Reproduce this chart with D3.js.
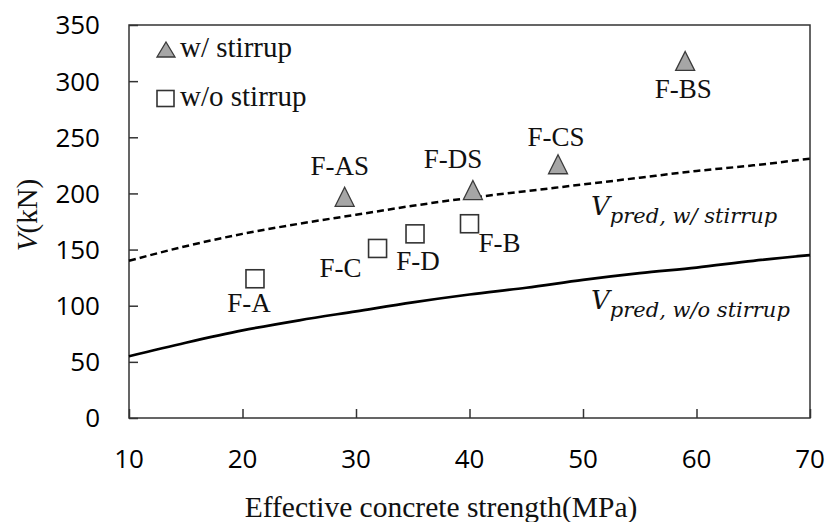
<!DOCTYPE html>
<html>
<head>
<meta charset="utf-8">
<script src="https://cdn.jsdelivr.net/npm/d3@7"></script>
<style>
  html, body { margin: 0; padding: 0; background: #fff; }
  svg { display: block; }
</style>
</head>
<body>
<svg id="chart" width="830" height="522"></svg>
<script>
// Specimens with stirrups (triangles)
const stirrupNames = ["F-AS", "F-DS", "F-CS", "F-BS"];
const stirrupFc = [29.0, 40.3, 47.8, 59.0];
const stirrupV = [197, 203, 226, 318];

// Specimens without stirrups (squares)
const plainNames = ["F-A", "F-C", "F-D", "F-B"];
const plainFc = [21.1, 31.9, 35.2, 40.0];
const plainV = [124, 151, 164, 173];

// Predicted shear strength curves
const predFc = [10, 15, 20, 25, 30, 35, 40, 45, 50, 55, 60, 65, 70];
const predWithStirrup = [140, 153, 164, 173, 181, 189, 196, 202, 208, 214, 220, 225, 231];
const predWithoutStirrup = [55, 67, 78, 87, 95, 103, 110, 116, 123, 129, 134, 140, 145];

// Axis ticks
const xTicks = [10, 20, 30, 40, 50, 60, 70];
const yTicks = [0, 50, 100, 150, 200, 250, 300, 350];

// Label placement around each marker: anchor, dx from marker centre, dy of baseline from marker centre
const labelPlacement = {
  "F-AS": { anchor: "middle", dx: -5, dy: -22 },
  "F-DS": { anchor: "middle", dx: -20, dy: -22 },
  "F-CS": { anchor: "middle", dx: -2, dy: -18 },
  "F-BS": { anchor: "middle", dx: -2, dy: 37 },
  "F-A":  { anchor: "middle", dx: -6, dy: 33 },
  "F-C":  { anchor: "end",    dx: -16, dy: 29 },
  "F-D":  { anchor: "middle", dx: 3, dy: 36 },
  "F-B":  { anchor: "start",  dx: 9, dy: 28 }
};

const svg = d3.select("#chart");
const plot = { left: 129, right: 810, top: 25, bottom: 418 };

const x = d3.scaleLinear().domain([10, 70]).range([plot.left, plot.right]);
const y = d3.scaleLinear().domain([0, 350]).range([plot.bottom, plot.top]);

const frameColor = "#333";
const serif = "Liberation Serif, Times New Roman, serif";
const sans = "Open Sans, Noto Sans, sans-serif";

// Y axis: ticks pointing into the plot, labels on the left
const yAxis = d3.axisRight(y).tickValues(yTicks).tickSize(9).tickFormat("");
const gy = svg.append("g").attr("transform", `translate(${plot.left},0)`).call(yAxis);
gy.select(".domain").remove();
gy.selectAll(".tick line").attr("stroke", frameColor).attr("stroke-width", 1.5);

svg.append("g").selectAll("text").data(yTicks).join("text")
  .attr("x", 100).attr("y", d => y(d)).attr("dy", "0.36em")
  .attr("text-anchor", "end")
  .attr("font-family", sans).attr("font-size", 26).attr("fill", "#000")
  .text(d => d);

// X axis: ticks pointing up into the plot, labels below
const xAxis = d3.axisTop(x).tickValues(xTicks).tickSize(9).tickFormat("");
const gx = svg.append("g").attr("transform", `translate(0,${plot.bottom})`).call(xAxis);
gx.select(".domain").remove();
gx.selectAll(".tick line").attr("stroke", frameColor).attr("stroke-width", 1.5);

svg.append("g").selectAll("text").data(xTicks).join("text")
  .attr("x", d => x(d)).attr("y", 468)
  .attr("text-anchor", "middle")
  .attr("font-family", sans).attr("font-size", 26).attr("fill", "#000")
  .text(d => d);

// Plot frame
svg.append("rect")
  .attr("x", plot.left).attr("y", plot.top)
  .attr("width", plot.right - plot.left).attr("height", plot.bottom - plot.top)
  .attr("fill", "none").attr("stroke", frameColor).attr("stroke-width", 1.5);

// Axis titles
svg.append("text")
  .attr("x", 441).attr("y", 517)
  .attr("text-anchor", "middle")
  .attr("font-family", serif).attr("font-size", 29.5).attr("fill", "#111")
  .text("Effective concrete strength(MPa)");

const yTitle = svg.append("text")
  .attr("transform", "translate(37,215) rotate(-90)")
  .attr("text-anchor", "middle")
  .attr("font-family", serif).attr("font-size", 29).attr("fill", "#111");
yTitle.append("tspan").attr("font-style", "italic").text("V");
yTitle.append("tspan").text("(kN)");

// Prediction curves
const line = d3.line().x(d => x(d[0])).y(d => y(d[1])).curve(d3.curveMonotoneX);

svg.append("path")
  .datum(d3.zip(predFc, predWithStirrup))
  .attr("d", line).attr("fill", "none")
  .attr("stroke", "#000").attr("stroke-width", 2.5)
  .attr("stroke-dasharray", "7,4");

svg.append("path")
  .datum(d3.zip(predFc, predWithoutStirrup))
  .attr("d", line).attr("fill", "none")
  .attr("stroke", "#000").attr("stroke-width", 2.7);

// Curve labels
function predLabel(px, py, sub) {
  const t = svg.append("text").attr("x", px).attr("y", py)
    .attr("font-family", "DejaVu Serif, serif").attr("font-style", "italic")
    .attr("fill", "#111");
  t.append("tspan").attr("font-size", 26).text("V");
  t.append("tspan").attr("dy", 8).attr("font-size", 21).text(sub);
}
predLabel(591, 215, "pred, w/ stirrup");
predLabel(591, 309, "pred, w/o stirrup");

// Marker shapes
const triPath = (w, h) => `M0,${-h / 2}L${w / 2},${h / 2}L${-w / 2},${h / 2}Z`;

const stirrupData = stirrupNames.map((n, i) => ({ name: n, fc: stirrupFc[i], v: stirrupV[i] }));
const plainData = plainNames.map((n, i) => ({ name: n, fc: plainFc[i], v: plainV[i] }));

svg.append("g").selectAll("path").data(stirrupData).join("path")
  .attr("transform", d => `translate(${x(d.fc)},${y(d.v)})`)
  .attr("d", triPath(19, 19))
  .attr("fill", "#a6a6a6").attr("stroke", "#3a3a3a").attr("stroke-width", 1.3);

svg.append("g").selectAll("rect").data(plainData).join("rect")
  .attr("x", d => x(d.fc) - 9).attr("y", d => y(d.v) - 9)
  .attr("width", 18).attr("height", 18)
  .attr("fill", "#fff").attr("stroke", "#333").attr("stroke-width", 1.6);

// Specimen labels
svg.append("g").selectAll("text").data(stirrupData.concat(plainData)).join("text")
  .attr("x", d => x(d.fc) + labelPlacement[d.name].dx)
  .attr("y", d => y(d.v) + labelPlacement[d.name].dy)
  .attr("text-anchor", d => labelPlacement[d.name].anchor)
  .attr("font-family", serif).attr("font-size", 27).attr("fill", "#111")
  .text(d => d.name);

// Legend
const legend = svg.append("g");
legend.append("path")
  .attr("transform", "translate(166,49.5)")
  .attr("d", triPath(18, 15))
  .attr("fill", "#a6a6a6").attr("stroke", "#3a3a3a").attr("stroke-width", 1.3);
legend.append("text").attr("x", 180).attr("y", 57)
  .attr("font-family", serif).attr("font-size", 29).attr("fill", "#111")
  .text("w/ stirrup");
legend.append("rect")
  .attr("x", 157).attr("y", 90.5).attr("width", 17).attr("height", 16)
  .attr("fill", "#fff").attr("stroke", "#333").attr("stroke-width", 1.6);
legend.append("text").attr("x", 180).attr("y", 106)
  .attr("font-family", serif).attr("font-size", 29).attr("fill", "#111")
  .text("w/o stirrup");
</script>
</body>
</html>
